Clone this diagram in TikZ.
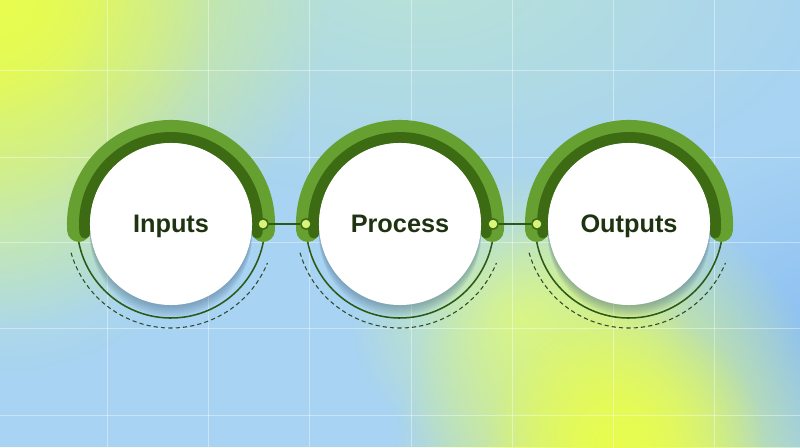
\documentclass[tikz,border=0pt]{standalone}
\usepackage{fontspec}
\setmainfont{Liberation Sans}
\usetikzlibrary{fadings}
\definecolor{bgblue}{HTML}{A8D3F2}
\definecolor{bgteal}{HTML}{B8E2D6}
\definecolor{bgyellow}{HTML}{E8FD4F}
\definecolor{bglime}{HTML}{D2F3A0}
\definecolor{bgdeep}{HTML}{8BBFF2}
\definecolor{bandlight}{HTML}{66A030}
\definecolor{banddark}{HTML}{3D6B14}
\definecolor{linkgreen}{HTML}{2C5A16}
\definecolor{dashgreen}{HTML}{2F4A2C}
\definecolor{portfill}{HTML}{D8F47A}
\definecolor{stagetext}{HTML}{1F3311}
\definecolor{shadowc}{HTML}{3F5F7A}
\tikzfading[name=glow, inner color=transparent!0, outer color=transparent!100]

\begin{document}
\begin{tikzpicture}[x=0.025cm,y=0.025cm]

%
% Styles
%
\tikzstyle{stage}     = [circle,fill=white,minimum size=4.05cm,inner sep=0pt,text depth=0pt,font=\bfseries\fontsize{18}{20}\selectfont,text=stagetext]
\tikzstyle{port}      = [circle,fill=portfill,draw=banddark,line width=1.1pt,minimum size=0.26cm,inner sep=0pt]
\tikzstyle{link}      = [draw=linkgreen,line width=1.1pt]
\tikzstyle{ringline}  = [draw=linkgreen,line width=1.1pt]
\tikzstyle{dashring}  = [draw=dashgreen,line width=0.75pt,dash pattern=on 3pt off 2.2pt]
\tikzstyle{bandouter} = [draw=bandlight,line width=16.4pt,line cap=round]
\tikzstyle{bandinner} = [draw=banddark,line width=7.8pt,line cap=round]
\tikzstyle{gridline}  = [white,opacity=0.4,line width=0.7pt]

% background
\useasboundingbox (0,0) rectangle (800,447);
\fill[bgblue] (0,0) rectangle (800,447);
\fill[bgteal, path fading=glow] (420,470) ellipse (420 and 230);
\fill[bgteal, path fading=glow] (0,230) ellipse (200 and 160);
\fill[bgdeep, path fading=glow] (830,110) ellipse (200 and 200);
\fill[bglime, path fading=glow] (520,130) ellipse (170 and 150);
\fill[bgyellow, path fading=glow] (615,-10) ellipse (220 and 260);
\fill[bgyellow, path fading=glow] (625,0) circle (140);
\fill[bgyellow, path fading=glow] (-20,467) circle (350);
\fill[bgyellow, path fading=glow] (-20,467) circle (240);
\fill[bgyellow, path fading=glow] (-20,467) circle (140);

\foreach \x in {107,208,309,411,512,613,714}
  \draw[gridline] (\x,0) -- (\x,447);
\foreach \y in {32,119,205,290,377}
  \draw[gridline] (0,\y) -- (800,\y);

% stages
\foreach \cx/\name/\txt in {171/in/Inputs,400/proc/Process,629/out/Outputs} {
  \foreach \k in {1,...,12}
    \fill[shadowc,opacity=0.04] (\cx,223-\k) circle (81);
  \draw[ringline] (\cx,223) ++(185:94) arc[start angle=185,end angle=355,radius=94];
  \draw[dashring] (\cx,223) ++(196:104) arc[start angle=196,end angle=338,radius=104];
  \draw[bandouter] (\cx,223) ++(-4:92.5) arc[start angle=-4,end angle=184,radius=92.5];
  \draw[bandinner] (\cx,223) ++(-6:86.5) arc[start angle=-6,end angle=186,radius=86.5];
  \node[stage] (\name) at (\cx,223) {\txt};
}

\node[port] (inR)   at (263,223) {};
\node[port] (procL) at (306,223) {};
\node[port] (procR) at (493,223) {};
\node[port] (outL)  at (537,223) {};

\draw[link] (inR) -- (procL);
\draw[link] (procR) -- (outL);

\end{tikzpicture}
\end{document}
